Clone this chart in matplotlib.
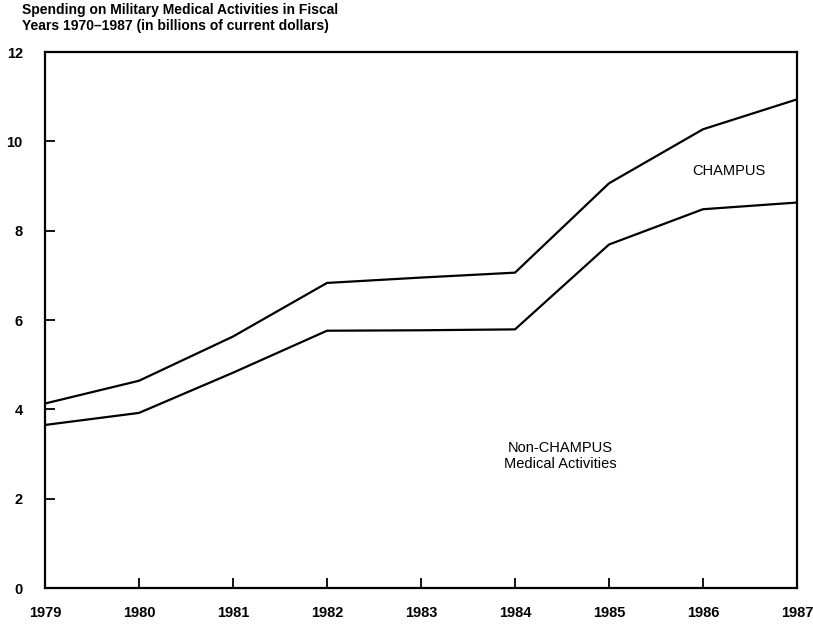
import matplotlib.pyplot as plt
import numpy as np

plt.rcParams['font.family'] = ['Liberation Sans', 'DejaVu Sans']

# fiscal years and spending (billions of current dollars)
years = [1979, 1980, 1981, 1982, 1983, 1984, 1985, 1986, 1987]
non_champus = [3.65, 3.92, 4.82, 5.76, 5.77, 5.79, 7.69, 8.48, 8.63]
total = [4.13, 4.64, 5.63, 6.83, 6.95, 7.06, 9.06, 10.27, 10.94]
yticks = [0, 2, 4, 6, 8, 10, 12]

fig = plt.figure(figsize=(8.13, 6.26), dpi=100)
ax = fig.add_axes([45/813, 1 - 588/626, (797 - 45)/813, (588 - 52)/626])

ax.plot(years, total, color='black', lw=1.6)
ax.plot(years, non_champus, color='black', lw=1.6)

ax.set_xlim(1979, 1987)
ax.set_ylim(0, 12)
ax.set_xticks(years)
ax.set_yticks(yticks)
ax.tick_params(direction='in', length=7, width=1.3, labelsize=10.5)
ax.tick_params(axis='x', pad=13)
ax.tick_params(axis='y', pad=16)
for lab in ax.get_xticklabels() + ax.get_yticklabels():
    lab.set_fontweight('bold')
for s in ax.spines.values():
    s.set_linewidth(1.6)

ax.text(1986.27, 9.33, 'CHAMPUS', ha='center', va='center', fontsize=10.5)
ax.text(1984.48, 2.96, 'Non-CHAMPUS\nMedical Activities', ha='center', va='center',
        fontsize=10.5, linespacing=1.15)

fig.text(22/813, 1 - 3/626,
         'Spending on Military Medical Activities in Fiscal\nYears 1970–1987 (in billions of current dollars)',
         ha='left', va='top', fontsize=10, fontweight='bold', linespacing=1.15)

fig.savefig('out.png', dpi=100)
